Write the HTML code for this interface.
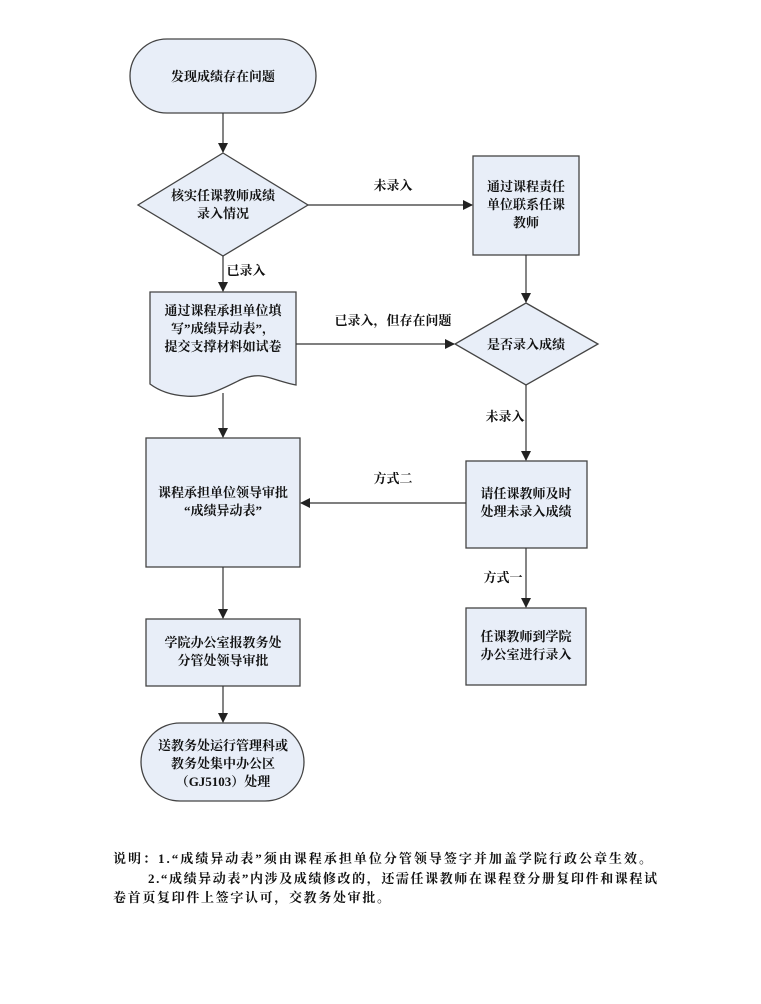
<!DOCTYPE html>
<html><head><meta charset="utf-8"><style>
html,body{margin:0;padding:0;background:#fff;}
svg text{font-family:"Liberation Serif","Noto Serif CJK SC","Noto Sans CJK SC",serif;font-weight:bold;fill:#111;}
</style></head><body>
<svg width="761" height="999" viewBox="0 0 761 999" xmlns="http://www.w3.org/2000/svg">
<defs><marker id="a" markerWidth="10" markerHeight="10" refX="9" refY="5" orient="auto" markerUnits="userSpaceOnUse"><path d="M0,0 L10,5 L0,10 z" fill="#222"/></marker></defs>
<g fill="#e8eef8" stroke="#444" stroke-width="1.3">
<rect x="130" y="39" width="186" height="74" rx="37"/>
<polygon points="223,153 308,205 223,256 138,205"/>
<rect x="473" y="156" width="106" height="99"/>
<polygon points="526,303 598,344 526,385 455,344"/>
<path d="M150,292 H296 V385 C270,380 262,370 240,380 C220,390 205,398 185,396 C170,395 158,390 150,384 Z"/>
<rect x="146" y="438" width="154" height="129"/>
<rect x="466" y="461" width="121" height="87"/>
<rect x="466" y="608" width="120" height="77"/>
<rect x="146" y="619" width="154" height="67"/>
<rect x="141" y="723" width="163" height="78" rx="39"/>
</g>
<g stroke="#333" stroke-width="1.2" fill="none" marker-end="url(#a)">
<line x1="223" y1="113" x2="223" y2="152"/>
<line x1="308" y1="205" x2="472" y2="205"/>
<line x1="526" y1="255" x2="526" y2="302"/>
<line x1="223" y1="256" x2="223" y2="291"/>
<line x1="296" y1="344" x2="454" y2="344"/>
<line x1="223" y1="393" x2="223" y2="437"/>
<line x1="526" y1="385" x2="526" y2="460"/>
<line x1="466" y1="503" x2="301" y2="503"/>
<line x1="526" y1="548" x2="526" y2="607"/>
<line x1="223" y1="567" x2="223" y2="618"/>
<line x1="223" y1="686" x2="223" y2="722"/>
</g>
<g font-size="13" text-anchor="middle">
<text x="223" y="81">发现成绩存在问题</text>
<text x="223" y="200">核实任课教师成绩</text>
<text x="223" y="218">录入情况</text>
<text x="526" y="191">通过课程责任</text>
<text x="526" y="209">单位联系任课</text>
<text x="526" y="227">教师</text>
<text x="526" y="349">是否录入成绩</text>
<text x="223" y="315">通过课程承担单位填</text>
<text x="223" y="333">写”成绩异动表”，</text>
<text x="223" y="351">提交支撑材料如试卷</text>
<text x="223" y="497">课程承担单位领导审批</text>
<text x="223" y="515">“成绩异动表”</text>
<text x="526" y="498">请任课教师及时</text>
<text x="526" y="516">处理未录入成绩</text>
<text x="526" y="641">任课教师到学院</text>
<text x="526" y="659">办公室进行录入</text>
<text x="223" y="647">学院办公室报教务处</text>
<text x="223" y="665">分管处领导审批</text>
<text x="223" y="750">送教务处运行管理科或</text>
<text x="223" y="768">教务处集中办公区</text>
<text x="223" y="786">（GJ5103）处理</text>
<text x="393" y="190">未录入</text>
<text x="246" y="275">已录入</text>
<text x="393" y="325">已录入，但存在问题</text>
<text x="505" y="421">未录入</text>
<text x="393" y="483">方式二</text>
<text x="503" y="582">方式一</text>
</g>
<g font-size="13">
<text x="113" y="863" textLength="539" lengthAdjust="spacing">说明：1.“成绩异动表”须由课程承担单位分管领导签字并加盖学院行政公章生效。</text>
<text x="148" y="883" textLength="509" lengthAdjust="spacing">2.“成绩异动表”内涉及成绩修改的，还需任课教师在课程登分册复印件和课程试</text>
<text x="113" y="902" textLength="277" lengthAdjust="spacing">卷首页复印件上签字认可，交教务处审批。</text>
</g>
</svg>
</body></html>
